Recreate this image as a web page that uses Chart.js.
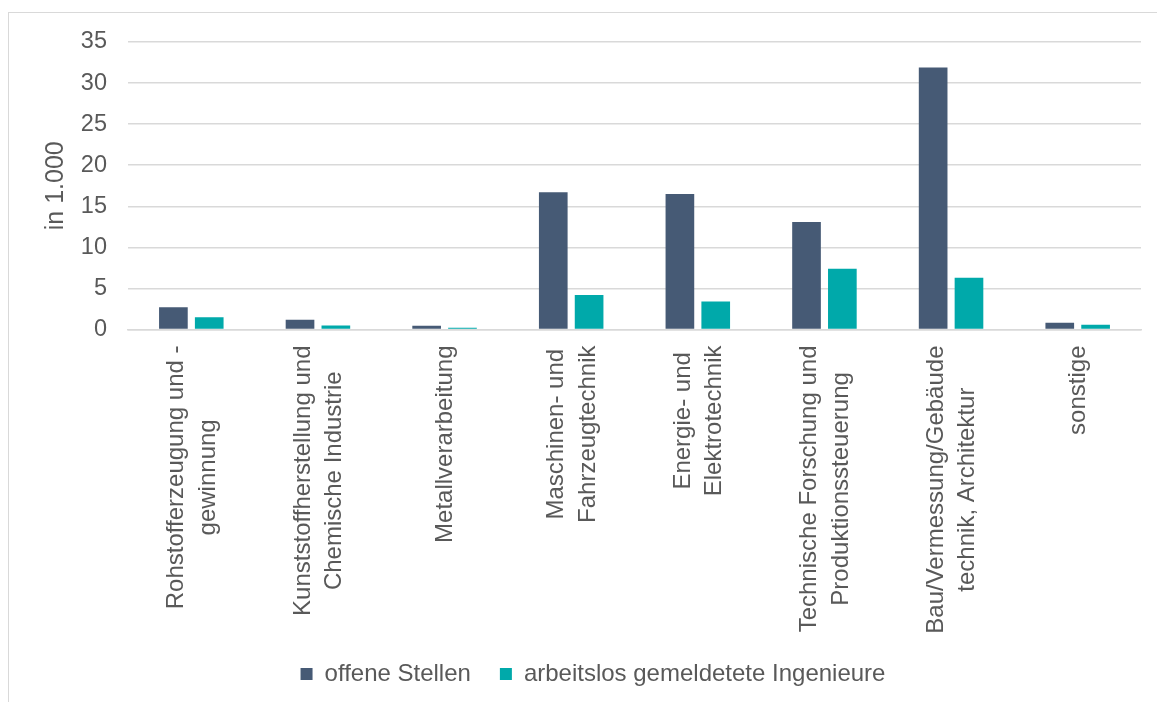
<!DOCTYPE html>
<html>
<head>
<meta charset="utf-8">
<script src="https://cdn.jsdelivr.net/npm/chart.js@4/dist/chart.umd.min.js"></script>
<style>
  html, body { margin: 0; padding: 0; background: #ffffff; overflow: hidden; }
  #frame { position: absolute; left: 8px; top: 12px; width: 1300px; height: 900px; border: 1px solid #d9d9d9; box-sizing: border-box; }
  #wrap { position: absolute; left: 0; top: 0; width: 1157px; height: 702px; }
</style>
</head>
<body>
<div id="frame"></div>
<div id="wrap"><canvas id="c" width="1157" height="702"></canvas></div>
<script>
const categories = [
  ["Rohstofferzeugung und -", "gewinnung"],
  ["Kunststoffherstellung und", "Chemische Industrie"],
  ["Metallverarbeitung"],
  ["Maschinen- und", "Fahrzeugtechnik"],
  ["Energie- und", "Elektrotechnik"],
  ["Technische Forschung und", "Produktionssteuerung"],
  ["Bau/Vermessung/Gebäude", "technik, Architektur"],
  ["sonstige"]
];
const seriesNames = ["offene Stellen", "arbeitslos gemeldetete Ingenieure"];
const offeneStellen = [2.7, 1.2, 0.45, 16.7, 16.5, 13.1, 31.9, 0.82];
const arbeitslos = [1.5, 0.5, 0.2, 4.2, 3.4, 7.4, 6.3, 0.57];
const yTicks = [0, 5, 10, 15, 20, 25, 30, 35];
const yTitle = "in 1.000";

const FONT = "'Liberation Sans', Arial, sans-serif";
const TEXT = "#595959";
Chart.defaults.font.family = FONT;
Chart.defaults.color = TEXT;

const categoryLabels = {
  id: 'categoryLabels',
  afterDraw(chart) {
    const xs = chart.scales.x;
    const ctx = chart.ctx;
    const top = chart.chartArea.bottom + 16;
    const lh = 31.5;
    ctx.save();
    ctx.font = "24px " + FONT;
    ctx.fillStyle = TEXT;
    ctx.textAlign = 'center';
    ctx.textBaseline = 'middle';
    categories.forEach((lines, i) => {
      const x = xs.getPixelForTick(i);
      const w = Math.max(...lines.map(l => ctx.measureText(l).width));
      ctx.save();
      ctx.translate(x, top);
      ctx.rotate(-Math.PI / 2);
      lines.forEach((l, j) => {
        const off = (j - (lines.length - 1) / 2) * lh;
        ctx.fillText(l, -w / 2, off + 1);
      });
      ctx.restore();
    });
    ctx.restore();
  }
};

new Chart(document.getElementById('c'), {
  type: 'bar',
  data: {
    labels: categories.map(c => c.join(' ')),
    datasets: [
      { label: seriesNames[0], data: offeneStellen, backgroundColor: '#465a75', categoryPercentage: 0.566, barPercentage: 0.8 },
      { label: seriesNames[1], data: arbeitslos, backgroundColor: '#00a9aa', categoryPercentage: 0.566, barPercentage: 0.8 }
    ]
  },
  options: {
    responsive: false,
    animation: false,
    events: [],
    layout: { padding: { top: 42, right: 16, left: 45, bottom: 6 } },
    plugins: {
      tooltip: { enabled: false },
      legend: {
        position: 'bottom',
        maxHeight: 70,
        labels: {
          boxWidth: 12,
          boxHeight: 12,
          padding: 29,
          color: TEXT,
          font: { size: 24, family: FONT }
        }
      }
    },
    scales: {
      x: {
        grid: { display: false },
        border: { display: true, color: '#d9d9d9', width: 1.5 },
        ticks: { display: false },
        afterFit(scale) { scale.height = 303.5; }
      },
      y: {
        min: 0,
        max: 35,
        afterBuildTicks(scale) { scale.ticks = yTicks.map(v => ({ value: v })); },
        grid: { color: '#d9d9d9', lineWidth: 1.5, drawTicks: false },
        border: { display: false },
        ticks: { padding: 21, color: TEXT, font: { size: 23.5, family: FONT } },
        title: { display: true, text: yTitle, color: TEXT, font: { size: 25, family: FONT, lineHeight: 0.88 }, padding: { top: 0, bottom: 0 } },
        afterFit(scale) { scale.width = 83; }
      }
    }
  },
  plugins: [categoryLabels]
});
</script>
</body>
</html>
